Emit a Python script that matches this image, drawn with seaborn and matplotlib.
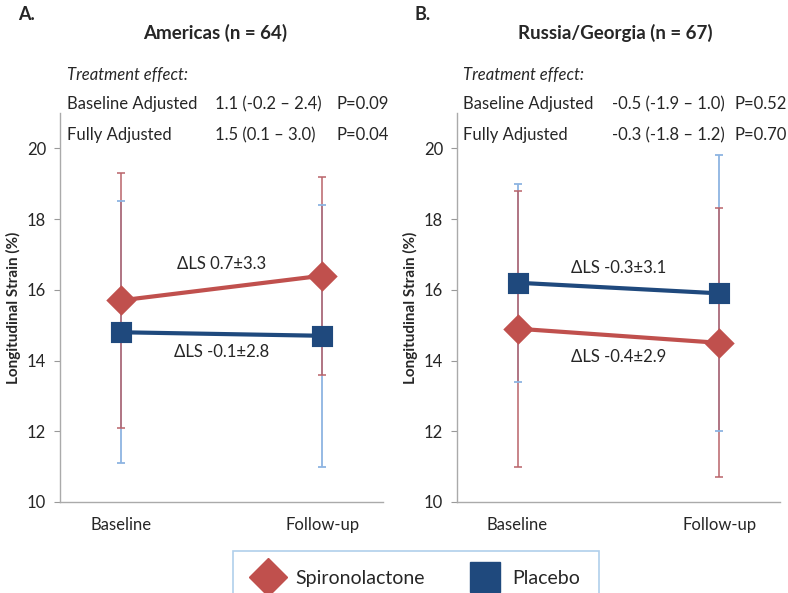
import numpy as np
import pandas as pd
import matplotlib
matplotlib.use('Agg')
import matplotlib.pyplot as plt
from matplotlib.lines import Line2D
import seaborn as sns

# --- data ---
timepoints = ['Baseline', 'Follow-up']
groups = ['Spironolactone', 'Placebo']

# Americas panel: means and SD (error bar half-lengths)
am_spiro_mean = [15.7, 16.4]
am_spiro_sd = [3.6, 2.8]
am_plac_mean = [14.8, 14.7]
am_plac_sd = [3.7, 3.7]

# Russia/Georgia panel
rg_spiro_mean = [14.9, 14.5]
rg_spiro_sd = [3.9, 3.8]
rg_plac_mean = [16.2, 15.9]
rg_plac_sd = [2.8, 3.9]

panel_letters = ['A.', 'B.']
panel_titles = ['Americas (n = 64)', 'Russia/Georgia (n = 67)']
effect_rows = [
    [('Baseline Adjusted', '1.1 (-0.2 \u2013 2.4)', 'P=0.09'),
     ('Fully Adjusted', '1.5 (0.1 \u2013 3.0)', 'P=0.04')],
    [('Baseline Adjusted', '-0.5 (-1.9 \u2013 1.0)', 'P=0.52'),
     ('Fully Adjusted', '-0.3 (-1.8 \u2013 1.2)', 'P=0.70')],
]
delta_labels = [
    ('\u0394LS 0.7\u00b13.3', '\u0394LS -0.1\u00b12.8'),
    ('\u0394LS -0.3\u00b13.1', '\u0394LS -0.4\u00b12.9'),
]

RED = '#C0504D'
BLUE = '#1F497D'
RED_EB = '#B9646A'
BLUE_EB = '#8DB4E2'

sns.set_theme(style='white')
plt.rcParams['font.family'] = ['Lato', 'DejaVu Sans']

W, H = 788, 593
fig = plt.figure(figsize=(W / 100, H / 100), dpi=100)


def fx(px):
    return px / W


def fy(py):
    return 1 - py / H


panels = [
    (am_spiro_mean, am_spiro_sd, am_plac_mean, am_plac_sd),
    (rg_spiro_mean, rg_spiro_sd, rg_plac_mean, rg_plac_sd),
]
ax_left_px = [60, 457]
text_x_px = [(67, 215, 337), (463, 612, 735)]
title_x_px = [215, 615]
delta_y = [(16.72, 14.24), (16.62, 14.1)]

for i, (sm, ss, pm, ps) in enumerate(panels):
    x0 = ax_left_px[i]
    ax = fig.add_axes([fx(x0), fy(502), 323 / W, 389 / H])

    df = pd.DataFrame({
        'time': timepoints * 2,
        'group': [groups[0]] * 2 + [groups[1]] * 2,
        'strain': sm + pm,
    })

    pos = np.arange(len(timepoints))
    # error bars (SD) first so markers sit on top
    ax.errorbar(pos, pm, yerr=ps, fmt='none', ecolor=BLUE_EB,
                elinewidth=1.3, capsize=3, capthick=1.3, zorder=1)
    ax.errorbar(pos, sm, yerr=ss, fmt='none', ecolor=RED_EB, alpha=0.85,
                elinewidth=1.3, capsize=3, capthick=1.3, zorder=2)

    sns.pointplot(data=df, x='time', y='strain', hue='group', order=timepoints,
                  hue_order=groups, palette=[RED, BLUE], markers=['D', 's'],
                  errorbar=None, markersize=13, linewidth=3, ax=ax,
                  legend=False)
    for ln in ax.lines:
        ln.set_zorder(3)

    ax.set_xlim(-0.3, 1.3)
    ax.set_ylim(10, 21)
    ax.set_yticks([10, 12, 14, 16, 18, 20])
    ax.set_xlabel('')
    ax.set_ylabel('Longitudinal Strain (%)', fontsize=11, fontweight='bold',
                  labelpad=4)
    ax.tick_params(axis='y', labelsize=12, left=True, length=4, width=0.8,
                   color='#999999', pad=6)
    ax.tick_params(axis='x', labelsize=12, bottom=False, pad=5)
    sns.despine(ax=ax)
    for sp in ['left', 'bottom']:
        ax.spines[sp].set_color('#AAAAAA')
        ax.spines[sp].set_linewidth(1.0)

    # delta labels centred between the two timepoints
    top_lab, bot_lab = delta_labels[i]
    ax.text(0.5, delta_y[i][0], top_lab, ha='center', va='center', fontsize=12)
    ax.text(0.5, delta_y[i][1], bot_lab, ha='center', va='center', fontsize=12)

    # header text
    fig.text(fx(x0 - 42), fy(15), panel_letters[i], fontsize=13,
             fontweight='bold', va='center')
    fig.text(fx(title_x_px[i]), fy(33), panel_titles[i], fontsize=13.5,
             fontweight='bold', ha='center', va='center')
    tx = text_x_px[i]
    fig.text(fx(tx[0]), fy(75), 'Treatment effect:', fontsize=12,
             style='italic', va='center')
    for r, row in enumerate(effect_rows[i]):
        yy = fy(104 + 31 * r)
        for c, s in enumerate(row):
            fig.text(fx(tx[c]), yy, s, fontsize=12, va='center')

# legend, box runs off the bottom of the figure like the original
handles = [
    Line2D([], [], linestyle='none', marker='D', markersize=19,
           markerfacecolor=RED, markeredgecolor=RED),
    Line2D([], [], linestyle='none', marker='s', markersize=21,
           markerfacecolor=BLUE, markeredgecolor=BLUE),
]
leg = fig.legend(handles, groups, loc='upper center',
                 bbox_to_anchor=(fx(416), fy(541)), ncol=2, fontsize=14,
                 frameon=True, fancybox=False, borderpad=1.0,
                 handlelength=1.6, handletextpad=0.6, columnspacing=2.3)
leg.get_frame().set_edgecolor('#9DC3E6')
leg.get_frame().set_linewidth(1.2)

fig.savefig('out.png', dpi=100)
